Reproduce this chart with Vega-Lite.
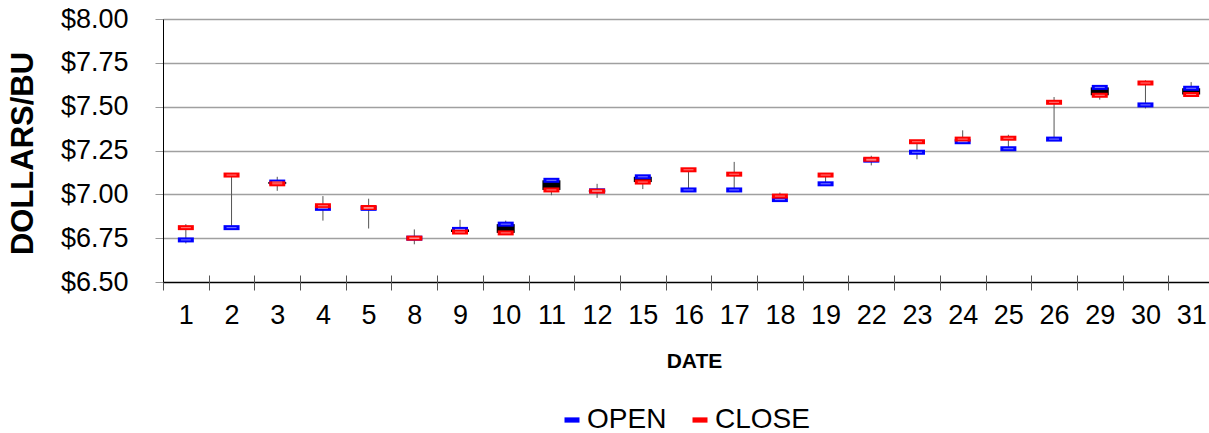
{
  "$schema": "https://vega.github.io/schema/vega-lite/v6.json",
  "width": 1046,
  "height": 263,
  "autosize": "none",
  "padding": {"left": 163, "top": 19, "right": 0, "bottom": 151},
  "background": "white",
  "config": {
    "view": {"stroke": null},
    "font": "Liberation Sans"
  },
  "data": {
    "values": [
      {"day": "1", "OPEN": 6.74, "HIGH": 6.83, "LOW": 6.72, "CLOSE": 6.81},
      {"day": "2", "OPEN": 6.81, "HIGH": 7.11, "LOW": 6.81, "CLOSE": 7.11},
      {"day": "3", "OPEN": 7.07, "HIGH": 7.10, "LOW": 7.02, "CLOSE": 7.06},
      {"day": "4", "OPEN": 6.92, "HIGH": 6.99, "LOW": 6.85, "CLOSE": 6.935},
      {"day": "5", "OPEN": 6.92, "HIGH": 6.975, "LOW": 6.805, "CLOSE": 6.925},
      {"day": "8", "OPEN": 6.75, "HIGH": 6.80, "LOW": 6.715, "CLOSE": 6.75},
      {"day": "9", "OPEN": 6.80, "HIGH": 6.855, "LOW": 6.78, "CLOSE": 6.785},
      {"day": "10", "OPEN": 6.83, "HIGH": 6.85, "LOW": 6.78, "CLOSE": 6.78},
      {"day": "11", "OPEN": 7.08, "HIGH": 7.08, "LOW": 6.995, "CLOSE": 7.025},
      {"day": "12", "OPEN": 7.02, "HIGH": 7.06, "LOW": 6.98, "CLOSE": 7.018},
      {"day": "15", "OPEN": 7.10, "HIGH": 7.11, "LOW": 7.03, "CLOSE": 7.07},
      {"day": "16", "OPEN": 7.025, "HIGH": 7.14, "LOW": 7.025, "CLOSE": 7.14},
      {"day": "17", "OPEN": 7.025, "HIGH": 7.185, "LOW": 7.025, "CLOSE": 7.115},
      {"day": "18", "OPEN": 6.97, "HIGH": 7.01, "LOW": 6.97, "CLOSE": 6.99},
      {"day": "19", "OPEN": 7.06, "HIGH": 7.11, "LOW": 7.06, "CLOSE": 7.11},
      {"day": "22", "OPEN": 7.195, "HIGH": 7.22, "LOW": 7.165, "CLOSE": 7.20},
      {"day": "23", "OPEN": 7.24, "HIGH": 7.30, "LOW": 7.20, "CLOSE": 7.30},
      {"day": "24", "OPEN": 7.30, "HIGH": 7.365, "LOW": 7.30, "CLOSE": 7.315},
      {"day": "25", "OPEN": 7.26, "HIGH": 7.34, "LOW": 7.26, "CLOSE": 7.32},
      {"day": "26", "OPEN": 7.315, "HIGH": 7.555, "LOW": 7.315, "CLOSE": 7.525},
      {"day": "29", "OPEN": 7.61, "HIGH": 7.61, "LOW": 7.54, "CLOSE": 7.565},
      {"day": "30", "OPEN": 7.51, "HIGH": 7.65, "LOW": 7.49, "CLOSE": 7.635},
      {"day": "31", "OPEN": 7.605, "HIGH": 7.64, "LOW": 7.57, "CLOSE": 7.57}
    ]
  },
  "encoding": {
    "x": {
      "field": "day",
      "type": "ordinal",
      "sort": null,
      "scale": {"range": [0, 1051], "paddingInner": 0, "paddingOuter": 0},
      "axis": {
        "title": "DATE",
        "titleFontSize": 21,
        "titleFontWeight": "bold",
        "titleColor": "black",
        "titleX": 531,
        "titleY": 86,
        "titleBaseline": "middle",
        "labelAngle": 0,
        "labelFontSize": 27,
        "labelColor": "black",
        "labelPadding": 12,
        "tickBand": "extent",
        "tickSize": 15,
        "tickColor": "#555555",
        "offset": -7,
        "domain": false,
        "grid": false
      }
    }
  },
  "layer": [
    {
      "mark": {"type": "rule", "color": "#555555", "strokeWidth": 1},
      "encoding": {
        "y": {
          "field": "LOW",
          "type": "quantitative",
          "scale": {"domain": [6.5, 8], "nice": false, "zero": false},
          "axis": {
            "values": [6.5, 6.75, 7, 7.25, 7.5, 7.75, 8],
            "format": "$.2f",
            "title": "DOLLARS/BU",
            "titleFontSize": 31,
            "titleFontWeight": "bold",
            "titleColor": "black",
            "titleX": -140,
            "titleY": 134,
            "titleAngle": -90,
            "titleBaseline": "middle",
            "titleAlign": "center",
            "labelFontSize": 27,
            "labelColor": "black",
            "labelPadding": 27,
            "tickSize": 8,
            "tickColor": "#999999",
            "domainColor": "black",
            "domainWidth": 1,
            "grid": true,
            "gridColor": {"condition": {"test": "datum.value === 6.5", "value": "black"}, "value": "#a0a0a0"},
            "gridWidth": 1.3
          }
        },
        "y2": {"field": "HIGH"}
      }
    },
    {
      "transform": [{"filter": "datum.OPEN > datum.CLOSE"}],
      "mark": {"type": "bar", "color": "black", "width": 18},
      "encoding": {
        "y": {"field": "OPEN", "type": "quantitative"},
        "y2": {"field": "CLOSE"}
      }
    },
    {
      "transform": [{"fold": ["OPEN", "CLOSE"], "as": ["key", "price"]}],
      "layer": [
        {
          "mark": {"type": "tick", "thickness": 5, "size": 16, "orient": "horizontal", "opacity": 1},
          "encoding": {
            "y": {"field": "price", "type": "quantitative"},
            "color": {
              "field": "key",
              "type": "nominal",
              "scale": {"domain": ["OPEN", "CLOSE"], "range": ["#0000ff", "#ff0000"]},
              "legend": {
                "title": null,
                "orient": "none",
                "legendX": 395,
                "legendY": 387,
                "direction": "horizontal",
                "symbolType": "M-1,-0.35L1,-0.35L1,0.35L-1,0.35Z",
                "symbolSize": 225,
                "symbolStrokeWidth": 0,
                "symbolOpacity": 1,
                "labelFontSize": 28,
                "labelColor": "black",
                "labelOffset": 1,
                "columnPadding": 19
              }
            }
          }
        },
        {
          "mark": {"type": "tick", "thickness": 1, "size": 10, "orient": "horizontal", "color": "white", "opacity": 0.5},
          "encoding": {
            "y": {"field": "price", "type": "quantitative"}
          }
        }
      ]
    }
  ]
}
